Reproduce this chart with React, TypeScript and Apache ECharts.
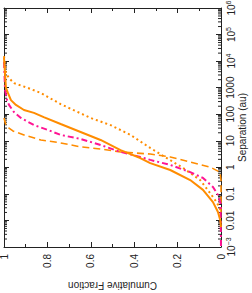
import React, { useEffect, useRef } from "react";
import * as echarts from "echarts";

// Cumulative fraction (x, drawn 1 -> 0) vs log10 of separation in au (y, log axis)
const solidF = [1.0, 0.995, 0.991, 0.982, 0.968, 0.945, 0.908, 0.862, 0.817, 0.739, 0.647, 0.555, 0.463, 0.372, 0.326, 0.234, 0.142, 0.083, 0.037, 0.014, 0.003, 0.0];
const solidLog = [4.12, 3.48, 2.99, 2.8, 2.53, 2.35, 2.16, 2.05, 1.89, 1.63, 1.33, 1.03, 0.65, 0.35, 0.16, -0.1, -0.48, -0.85, -1.31, -1.68, -2.0, -2.25];

const dottedF = [1.0, 0.991, 0.977, 0.954, 0.89, 0.83, 0.739, 0.601, 0.509, 0.417, 0.326, 0.174, 0.096, 0.05, 0.018, 0.005, 0.0];
const dottedLog = [4.19, 3.55, 3.36, 3.17, 2.99, 2.8, 2.38, 1.86, 1.59, 1.22, 0.73, -0.03, -0.48, -0.97, -1.34, -1.57, -1.68];

const dashDotF = [1.0, 0.995, 0.986, 0.977, 0.954, 0.922, 0.862, 0.798, 0.739, 0.647, 0.555, 0.463, 0.372, 0.326, 0.234, 0.142, 0.083, 0.037, 0.014, 0.002, 0.0];
const dashDotLog = [3.97, 2.91, 2.53, 2.35, 2.08, 1.86, 1.59, 1.41, 1.22, 1.07, 0.84, 0.58, 0.39, 0.28, 0.09, -0.18, -0.4, -0.74, -1.04, -1.35, -3.0];

const dashedF = [1.0, 0.991, 0.977, 0.959, 0.908, 0.83, 0.739, 0.647, 0.555, 0.463, 0.326, 0.234, 0.142, 0.05, 0.005, 0.0, 0.0];
const dashedLog = [1.86, 1.59, 1.48, 1.37, 1.22, 1.03, 0.92, 0.77, 0.69, 0.58, 0.5, 0.39, 0.2, 0.01, -0.18, -0.48, -1.7];

const xTickLabels = ["0", "0.2", "0.4", "0.6", "0.8", "1"];
const decades = [-3, -2, -1, 0, 1, 2, 3, 4, 5, 6];
const decadeLabels = ["10{s|−3}", "0.01", "0.1", "1", "10", "100", "1000", "10{s|4}", "10{s|5}", "10{s|6}"];

const ORANGE = "#ff8c00";
const MAGENTA = "#ff1493";
const FONT = "Liberation Sans";

function toPairs(f: number[], lg: number[]) {
  return f.map((v, i) => [v, Math.pow(10, lg[i])]);
}

const minorTickValues: number[] = [];
for (let n = -3; n < 6; n++) {
  for (let k = 2; k <= 9; k++) minorTickValues.push(k * Math.pow(10, n));
}

export default function App() {
  const ref = useRef<HTMLDivElement>(null);
  useEffect(() => {
    if (!ref.current) return;
    const chart = echarts.init(ref.current, null, { renderer: "svg" });
    const axisColor = "#222";
    const xCommon = {
      type: "value" as const,
      min: 0,
      max: 1,
      interval: 0.2,
      inverse: true,
      splitLine: { show: false },
      axisLine: { show: true, onZero: false, lineStyle: { color: axisColor, width: 1 } },
      axisTick: { show: true, inside: true, length: 5, lineStyle: { color: axisColor } },
      minorTick: { show: true, splitNumber: 2, length: 3, lineStyle: { color: axisColor } },
    };
    const yCommon = {
      type: "log" as const,
      logBase: 10,
      min: 0.001,
      max: 1e6,
      interval: 1,
      splitLine: { show: false },
      axisLine: { show: true, onZero: false, lineStyle: { color: axisColor, width: 1 } },
      axisTick: { show: true, inside: true, length: 5, lineStyle: { color: axisColor } },
    };
    chart.setOption({
      animation: false,
      backgroundColor: "#fff",
      grid: { left: 4, right: 31, top: 8, bottom: 46, containLabel: false, outerBoundsMode: "none" },
      xAxis: [
        {
          ...xCommon,
          position: "bottom",
          name: "Cumulative Fraction",
          nameLocation: "middle",
          nameGap: 33,
          nameRotate: 180,
          nameTextStyle: { fontFamily: FONT, fontSize: 10, color: axisColor },
          axisLabel: {
            show: true,
            rotate: 90,
            margin: 7,
            fontFamily: FONT,
            fontSize: 10,
            color: axisColor,
            formatter: (v: number) => xTickLabels[Math.round(v * 5)],
          },
        },
        { ...xCommon, position: "top", axisLabel: { show: false } },
      ],
      yAxis: [
        {
          ...yCommon,
          position: "right",
          name: "Separation (au)",
          nameLocation: "middle",
          nameGap: 16,
          nameMoveOverlap: false,
          nameRotate: 90,
          nameTextStyle: { fontFamily: FONT, fontSize: 10, color: axisColor },
          axisLabel: {
            show: true,
            rotate: 90,
            margin: 4,
            fontFamily: FONT,
            fontSize: 10,
            color: axisColor,
            formatter: (v: number) => {
              const e = Math.round(Math.log10(v));
              const i = decades.indexOf(e);
              return i >= 0 ? decadeLabels[i] : "";
            },
            rich: {
              s: { fontFamily: FONT, fontSize: 7, color: axisColor, padding: [0, 0, 6, 0] },
            },
          },
        },
        { ...yCommon, position: "left", axisLabel: { show: false } },
      ],
      series: [
        {
          type: "custom",
          xAxisIndex: 0,
          yAxisIndex: 0,
          silent: true,
          clip: false,
          data: minorTickValues.map((v) => [0, v]),
          renderItem: (params: any, api: any) => {
            const v = api.value(1);
            const r = api.coord([0, v]);
            const l = api.coord([1, v]);
            return {
              type: "group",
              children: [
                { type: "line", shape: { x1: r[0], y1: r[1], x2: r[0] - 3, y2: r[1] }, style: { stroke: axisColor, lineWidth: 1 } },
                { type: "line", shape: { x1: l[0], y1: l[1], x2: l[0] + 3, y2: l[1] }, style: { stroke: axisColor, lineWidth: 1 } },
              ],
            };
          },
        },
        {
          type: "line",
          data: toPairs(dottedF, dottedLog),
          showSymbol: false,
          lineStyle: { color: ORANGE, width: 2, type: [2, 3] },
        },
        {
          type: "line",
          data: toPairs(dashedF, dashedLog),
          showSymbol: false,
          lineStyle: { color: ORANGE, width: 1.6, type: [7, 4] },
        },
        {
          type: "line",
          data: toPairs(dashDotF, dashDotLog),
          showSymbol: false,
          lineStyle: { color: MAGENTA, width: 2, type: [6, 3, 2, 3] },
        },
        {
          type: "line",
          data: toPairs(solidF, solidLog),
          showSymbol: false,
          lineStyle: { color: ORANGE, width: 2 },
        },
      ],
    });
    return () => chart.dispose();
  }, []);
  return <div ref={ref} style={{ width: 252, height: 293, position: "absolute", left: 0, top: 0 }} />;
}
